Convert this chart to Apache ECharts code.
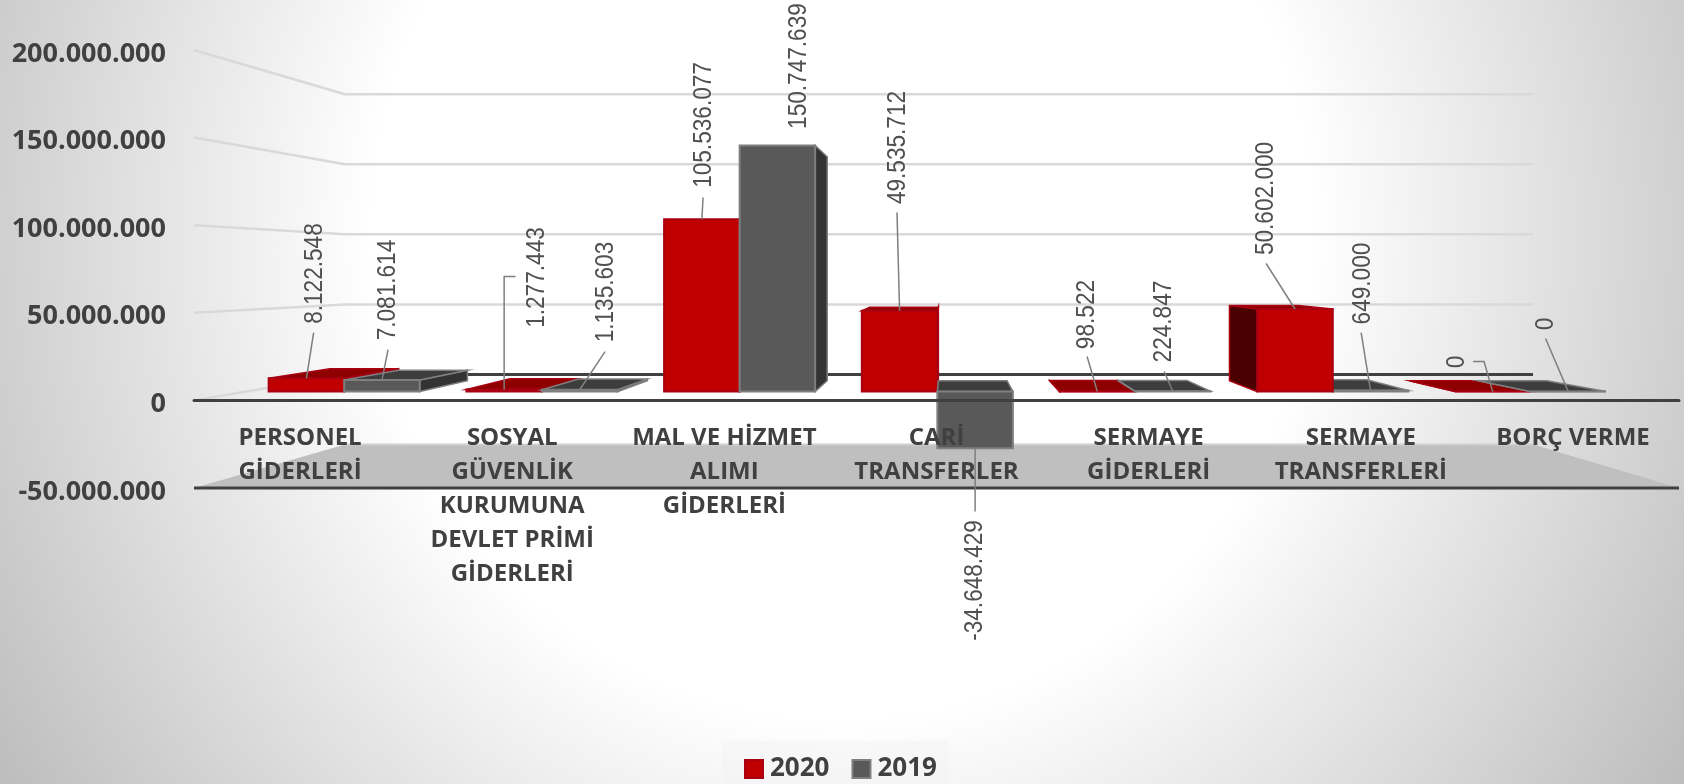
<!DOCTYPE html>
<html>
<head>
<meta charset="utf-8">
<title>Giderler 2020 / 2019</title>
<script src="https://cdn.jsdelivr.net/npm/echarts@6/dist/echarts.min.js"></script>
<style>
  html, body { margin: 0; padding: 0; width: 100%; height: 100%; }
  body { background: radial-gradient(ellipse 1000px 1040px at 842px 230px, #ffffff 47%, #bcbcbc 100%); }
  #chart { width: 1684px; height: 784px; }
</style>
</head>
<body>
<div id="chart"></div>
<script>
const categories = [
  'PERSONEL\nGİDERLERİ',
  'SOSYAL\nGÜVENLİK\nKURUMUNA\nDEVLET PRİMİ\nGİDERLERİ',
  'MAL VE HİZMET\nALIMI\nGİDERLERİ',
  'CARİ\nTRANSFERLER',
  'SERMAYE\nGİDERLERİ',
  'SERMAYE\nTRANSFERLERİ',
  'BORÇ VERME'
]
const values2020 = [8122548, 1277443, 105536077, 49535712, 98522, 50602000, 0]
const values2019 = [7081614, 1135603, 150747639, -34648429, 224847, 649000, 0]
const yTicks = [-50000000, 0, 50000000, 100000000, 150000000, 200000000]

// label centre and leader points, in pixels relative to the top of the bar
const labelLayout2020 = [
  { label: [8.6, -104.8], line: [[7.2, -45.8]] },
  { label: [32.9, -112], line: [[11.4, -113], [0, -113]] },
  { label: [1.7, -94.3], line: [[1.2, -21.8]] },
  { label: [-1.6, -163.2], line: [[-2.6, -98.2]] },
  { label: [-10.2, -76.9], line: [[-10.2, -34.9]] },
  { label: [-28.9, -110.5], line: [[-28.9, -45.5]] },
  { label: [-36, -29.6], line: [[-19.7, -30.1], [-8.7, -30.1]] }
]
const labelLayout2019 = [
  { label: [6.1, -90], line: [[6.1, -30.5]] },
  { label: [26.4, -97.7], line: [[25.4, -38.2]] },
  { label: [21.7, -79.4], line: [] },
  { label: [-0.1, 132.3], line: [[0, 63.3]] },
  { label: [-8.7, -69.7], line: [[-8.7, -19.7]] },
  { label: [-7.4, -107], line: [[-9.4, -58]] },
  { label: [-22.7, -67.6], line: [[-22.7, -53.1]] }
]

const TEXT = '#404040'
const FONT = '"Open Sans", sans-serif'
const BAR_FRACTION = 0.382

// perspective of the excel 3d chart
const VANISH = [949, 271]
const WALL_DEPTH = 0.2
const BAR_FRONT = 0.068
const BAR_BACK = 0.152

const project = (p, d) => [p[0] + (VANISH[0] - p[0]) * d, p[1] + (VANISH[1] - p[1]) * d]
const dots = (v) => String(v).replace(/\B(?=(\d{3})+(?!\d))/g, '.')
const poly = (points, fill, stroke, lineWidth) => ({
  type: 'polygon',
  shape: { points },
  style: { fill, stroke, lineWidth }
})
const line = (points, stroke, lineWidth) => ({
  type: 'polyline',
  shape: { points },
  style: { fill: 'none', stroke, lineWidth }
})

const renderWall = (params, api) => {
  const v = api.value(0)
  const rect = params.coordSys
  const left = [rect.x, api.coord([0, v])[1]]
  const right = [rect.x + rect.width, left[1]]
  const backLeft = project(left, WALL_DEPTH)
  const backRight = project(right, WALL_DEPTH)
  if (v < 0) {
    return {
      type: 'group',
      children: [
        poly([left, right, backRight, backLeft], '#bfbfbf', 'none', 0),
        line([backLeft, backRight], '#d0d0d0', 2),
        line([left, right], TEXT, 3)
      ]
    }
  }
  return {
    type: 'group',
    children: [
      line([left, backLeft], '#d9d9d9', 2.5),
      line([backLeft, backRight], v === 0 ? TEXT : '#d9d9d9', v === 0 ? 3 : 2.5)
    ]
  }
}

const barRenderer = (side, colors) => (params, api) => {
  const i = api.value(0)
  const v = api.value(1)
  const w = api.size([1, 0])[0] * BAR_FRACTION
  const cx = api.coord([i, 0])[0]
  const x0 = side < 0 ? cx - w : cx
  const x1 = x0 + w
  const yZero = api.coord([i, 0])[1]
  const yVal = api.coord([i, v])[1]
  const yTop = Math.min(yZero, yVal)
  const yBot = Math.max(yZero, yVal)

  const f = (x, y) => project([x, y], BAR_FRONT)
  const b = (x, y) => project([x, y], BAR_BACK)
  const children = []
  if (f(x1, yTop)[0] < VANISH[0]) {
    children.push(poly([f(x1, yTop), b(x1, yTop), b(x1, yBot), f(x1, yBot)], colors.side, colors.edge, 1.5))
  }
  if (f(x0, yTop)[0] > VANISH[0]) {
    children.push(poly([f(x0, yTop), b(x0, yTop), b(x0, yBot), f(x0, yBot)], colors.side, colors.edge, 1.5))
  }
  if (f(x0, yTop)[1] > VANISH[1]) {
    children.push(poly([f(x0, yTop), f(x1, yTop), b(x1, yTop), b(x0, yTop)], colors.top, colors.edge, 1.5))
  }
  children.push(poly([f(x0, yTop), f(x1, yTop), f(x1, yBot), f(x0, yBot)], colors.front, colors.edge, 2))

  // right of the vanishing point a taller 2020 bar hides the 2019 bar behind it
  const hides = side < 0 && f(x0, yTop)[0] > VANISH[0] && v > values2019[i]
  children.forEach((c) => { c.z2 = hides ? 5 : 1 })
  return { type: 'group', children }
}

const labelRenderer = (side, layout) => (params, api) => {
  const i = api.value(0)
  const v = api.value(1)
  const w = api.size([1, 0])[0] * BAR_FRACTION
  const x = api.coord([i, 0])[0] + side * w / 2
  const a = project([x, api.coord([i, v])[1]], BAR_FRONT)
  const item = layout[i]
  const children = []
  if (item.line.length) {
    const pts = item.line.map((p) => [a[0] + p[0], a[1] + p[1]])
    pts.push(a)
    children.push(line(pts, '#7f7f7f', 1.5))
  }
  children.push({
    type: 'text',
    x: a[0] + item.label[0],
    y: a[1] + item.label[1],
    rotation: Math.PI / 2,
    scaleX: 0.87,
    style: {
      text: dots(v),
      font: '26px "Liberation Sans", sans-serif',
      fill: '#505050',
      align: 'center',
      verticalAlign: 'middle'
    }
  })
  return { type: 'group', children }
}

const toData = (values) => values.map((v, i) => [i, v])

const colors2020 = { front: '#c00000', top: '#8e0000', side: '#4a0000', edge: '#a80012' }
const colors2019 = { front: '#595959', top: '#3d3d3d', side: '#333333', edge: '#7f7f7f' }

const chart = echarts.init(document.getElementById('chart'))
chart.setOption({
  animation: false,
  textStyle: { fontFamily: FONT },
  grid: { left: 194, top: 50, width: 1485, height: 438 },
  legend: {
    data: ['2020', '2019'],
    left: 722,
    top: 741,
    padding: [15, 12, 8, 22],
    backgroundColor: 'rgba(240, 240, 240, 0.35)',
    icon: 'rect',
    itemWidth: 18,
    itemHeight: 18,
    itemGap: 22,
    textStyle: { color: TEXT, fontSize: 26, fontWeight: 'bold', fontFamily: FONT, padding: [0, 0, 0, 2] }
  },
  xAxis: {
    type: 'category',
    data: categories,
    z: 10,
    axisTick: { show: false },
    axisLine: { onZero: true, lineStyle: { color: TEXT, width: 3 } },
    axisLabel: {
      interval: 0,
      margin: -67,
      color: TEXT,
      fontFamily: FONT,
      fontSize: 24,
      fontWeight: 'bold',
      lineHeight: 34,
      verticalAlign: 'top'
    }
  },
  yAxis: {
    type: 'value',
    min: yTicks[0],
    max: yTicks[yTicks.length - 1],
    interval: 50000000,
    z: 10,
    splitLine: { show: false },
    axisLine: { show: false },
    axisTick: { show: false },
    axisLabel: {
      margin: 28,
      color: TEXT,
      fontFamily: FONT,
      fontSize: 27,
      fontWeight: 'bold',
      // sits a few pixels under its gridline, like the reference
      verticalAlign: 'top',
      lineHeight: 8,
      formatter: (v) => (v < 0 ? '-' + dots(-v) : dots(v))
    }
  },
  series: [
    {
      type: 'custom',
      name: 'wall',
      z: 1,
      silent: true,
      renderItem: renderWall,
      encode: { y: 0 },
      data: yTicks.map((v) => [v])
    },
    {
      type: 'custom',
      name: '2020',
      z: 3,
      silent: true,
      itemStyle: { color: colors2020.front, borderColor: colors2020.edge, borderWidth: 1 },
      renderItem: barRenderer(-1, colors2020),
      encode: { x: 0, y: 1 },
      data: toData(values2020)
    },
    {
      type: 'custom',
      name: '2019',
      z: 3,
      silent: true,
      itemStyle: { color: colors2019.front, borderColor: colors2019.edge, borderWidth: 2 },
      renderItem: barRenderer(1, colors2019),
      encode: { x: 0, y: 1 },
      data: toData(values2019)
    },
    {
      type: 'custom',
      name: 'labels2020',
      z: 12,
      silent: true,
      renderItem: labelRenderer(-1, labelLayout2020),
      encode: { x: 0, y: 1 },
      data: toData(values2020)
    },
    {
      type: 'custom',
      name: 'labels2019',
      z: 12,
      silent: true,
      renderItem: labelRenderer(1, labelLayout2019),
      encode: { x: 0, y: 1 },
      data: toData(values2019)
    }
  ]
})

window.addEventListener('resize', () => chart.resize())
</script>
</body>
</html>
